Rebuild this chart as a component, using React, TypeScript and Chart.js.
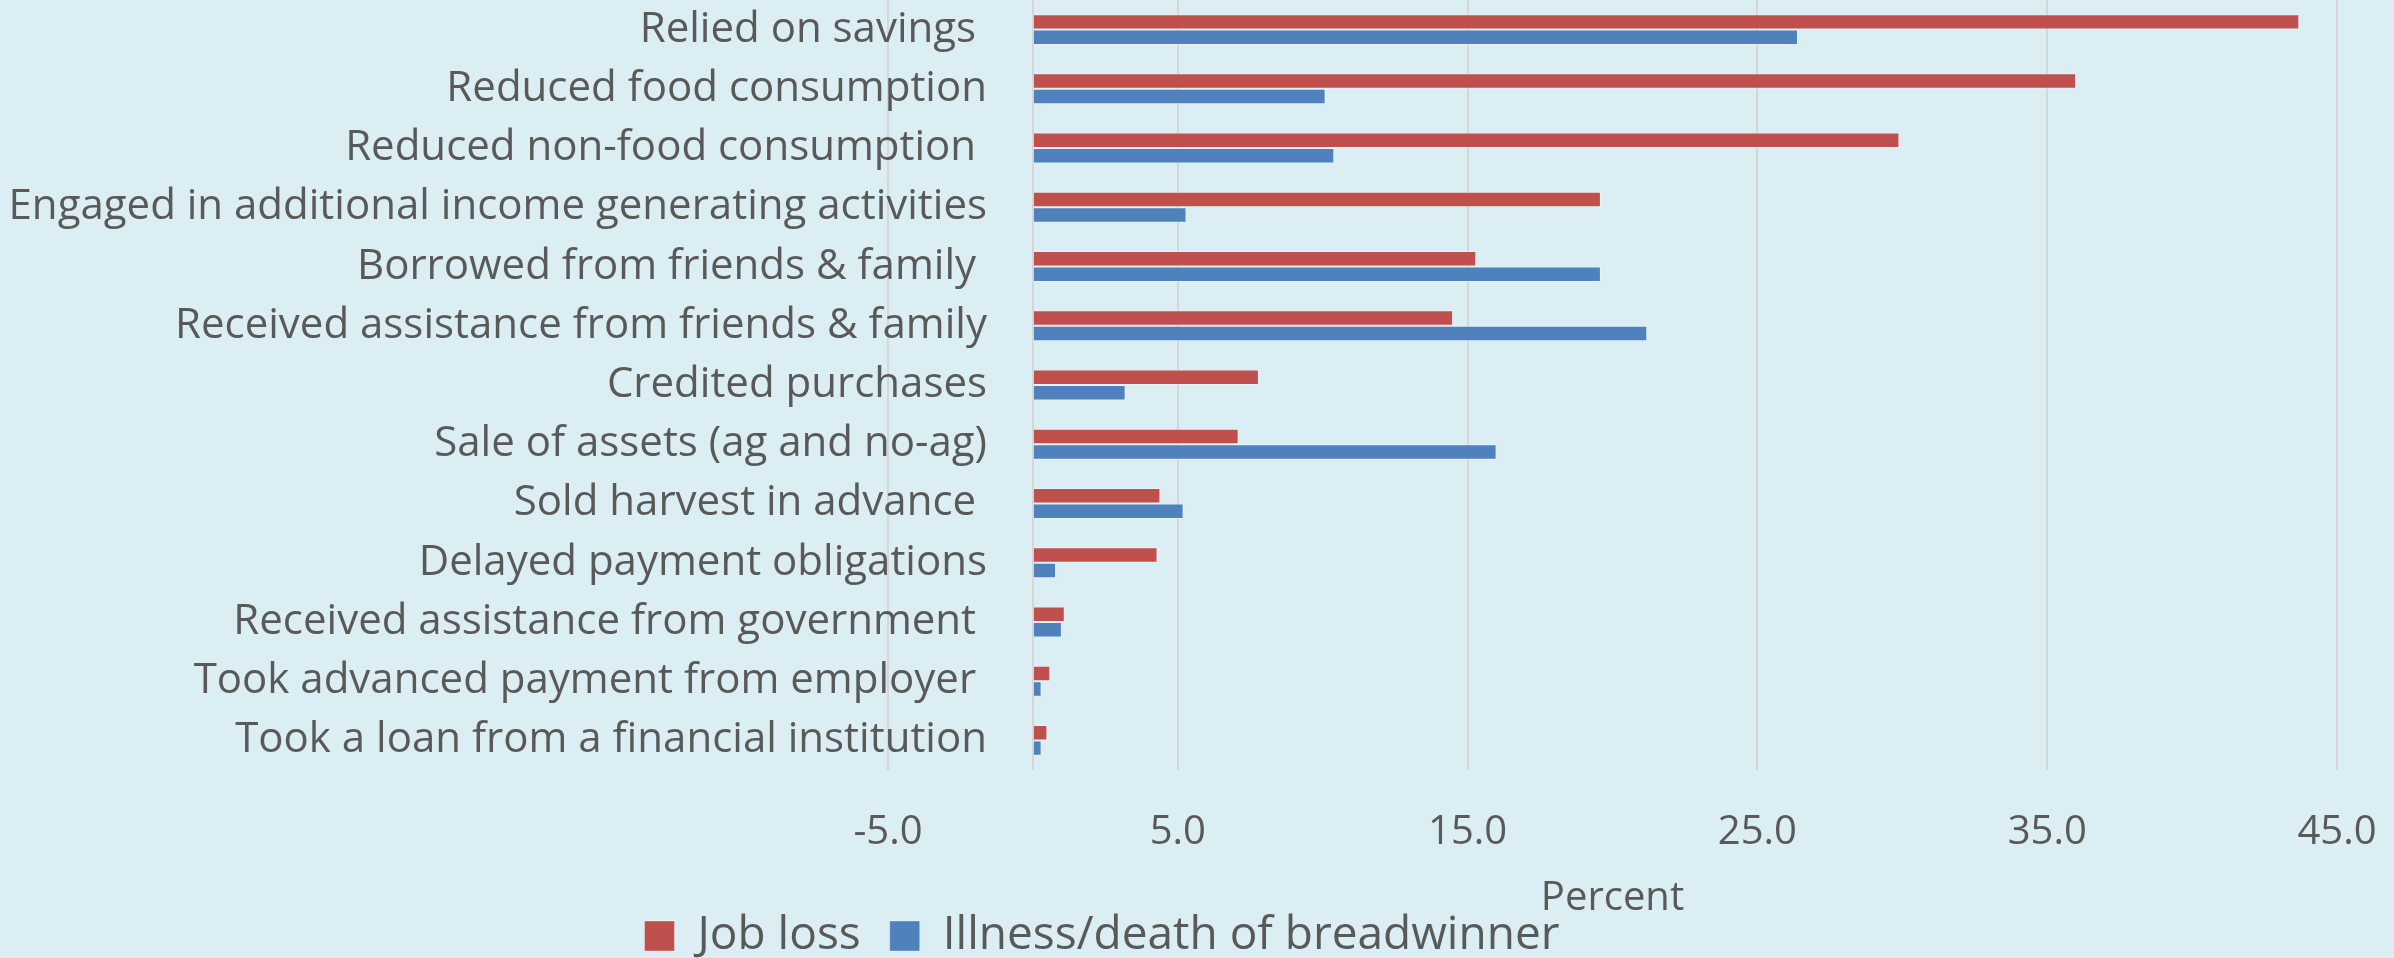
import React, { useEffect, useRef } from "react";
import { Chart, registerables } from "chart.js";

Chart.register(...registerables);

const categories = [
  "Relied on savings ",
  "Reduced food consumption",
  "Reduced non-food consumption ",
  "Engaged in additional income generating activities",
  "Borrowed from friends & family ",
  "Received assistance from friends & family",
  "Credited purchases",
  "Sale of assets (ag and no-ag)",
  "Sold harvest in advance ",
  "Delayed payment obligations",
  "Received assistance from government ",
  "Took advanced payment from employer ",
  "Took a loan from a financial institution",
];

const jobLoss = [43.7, 36.0, 29.9, 19.6, 15.3, 14.5, 7.8, 7.1, 4.4, 4.3, 1.1, 0.6, 0.5];
const illness = [26.4, 10.1, 10.4, 5.3, 19.6, 21.2, 3.2, 16.0, 5.2, 0.8, 1.0, 0.3, 0.3];

const seriesNames = ["Job loss", "Illness/death of breadwinner"];
const xMin = -5;
const xMax = 45;
const xStep = 5;
const axisTitle = "Percent";

const W = 2394;
const H = 958;
const BG = "#DAEEF3";
const TEXT = "#595959";
const FONT = "'Open Sans'";

const PLOT_LEFT = 888;
const PLOT_BOTTOM = 770;
const LABEL_RIGHT = 987;
const Y_FONT = 42;

const LEGEND_CX = 1102;
const LEGEND_MID = 936;
const LEGEND_FONT = 46;
const LEGEND_PAD = 29;
const LEGEND_BOX = 30;

const legendShift = {
  id: "legendShift",
  afterLayout(chart: any) {
    const l = chart.legend;
    if (!l) return;
    const dx = LEGEND_CX - (l.left + l.right) / 2;
    l.left += dx;
    l.right += dx;
    const itemH = Math.max(LEGEND_FONT, LEGEND_BOX);
    const top = LEGEND_MID - LEGEND_PAD - itemH / 2;
    l.top = top;
    l.bottom = top + 120;
    l.height = 120;
  },
};

export default function App() {
  const ref = useRef<HTMLCanvasElement | null>(null);

  useEffect(() => {
    document.body.style.margin = "0";
    document.body.style.background = BG;
    const canvas = ref.current;
    if (!canvas) return;

    const mctx = document.createElement("canvas").getContext("2d")!;
    mctx.font = `${Y_FONT}px ${FONT}`;
    const widest = Math.max(...categories.map((c) => mctx.measureText(c).width));
    const yPad = LABEL_RIGHT - PLOT_LEFT - widest;

    const chart = new Chart(canvas, {
      type: "bar",
      data: {
        labels: categories,
        datasets: [
          {
            label: seriesNames[0],
            data: jobLoss,
            backgroundColor: "#C0504D",
            borderColor: "rgba(255,255,255,0.35)",
            borderWidth: 1,
            categoryPercentage: 0.523,
            barPercentage: 1,
          },
          {
            label: seriesNames[1],
            data: illness,
            backgroundColor: "#4F81BD",
            borderColor: "rgba(255,255,255,0.35)",
            borderWidth: 1,
            categoryPercentage: 0.523,
            barPercentage: 1,
          },
        ],
      },
      options: {
        indexAxis: "y",
        responsive: false,
        animation: false,
        devicePixelRatio: 1,
        layout: { padding: { left: 0, right: 57, top: 0, bottom: 0 } },
        scales: {
          x: {
            type: "linear",
            min: xMin,
            max: xMax,
            afterFit(scale: any) {
              scale.height = H - 1 - PLOT_BOTTOM;
            },
            ticks: {
              stepSize: xStep,
              autoSkip: false,
              maxRotation: 0,
              padding: 0,
              color: TEXT,
              font: { family: FONT, size: 40 },
              callback: (v: any) => {
                const n = Number(v);
                return Math.round(n) % 10 === 0 ? "" : n.toFixed(1);
              },
            },
            grid: {
              drawTicks: true,
              tickLength: 39,
              tickColor: "rgba(0,0,0,0)",
              lineWidth: 2,
              color: (ctx: any) => {
                const v = ctx.tick ? Math.round(ctx.tick.value) : 1;
                return v % 10 === 0 && v !== 0 ? "rgba(0,0,0,0)" : "#D6D6D6";
              },
            },
            border: { display: false },
            title: {
              display: true,
              text: axisTitle,
              color: TEXT,
              font: { family: FONT, size: 40 },
              padding: { top: 0, bottom: 34 },
            },
          },
          y: {
            type: "category",
            afterFit(scale: any) {
              scale.width = PLOT_LEFT;
            },
            ticks: {
              autoSkip: false,
              mirror: true,
              crossAlign: "far",
              padding: yPad,
              color: TEXT,
              font: { family: FONT, size: Y_FONT },
            },
            grid: { display: false, drawTicks: false },
            border: { display: false },
          },
        },
        plugins: {
          legend: {
            position: "bottom",
            maxHeight: 1,
            labels: {
              boxWidth: LEGEND_BOX,
              boxHeight: LEGEND_BOX,
              padding: LEGEND_PAD,
              color: TEXT,
              font: { family: FONT, size: LEGEND_FONT },
            },
          },
          tooltip: { enabled: false },
        },
      },
      plugins: [legendShift],
    });
    return () => chart.destroy();
  }, []);

  return (
    <div style={{ width: W, height: H, background: BG }}>
      <canvas ref={ref} width={W} height={H} style={{ display: "block" }} />
    </div>
  );
}
